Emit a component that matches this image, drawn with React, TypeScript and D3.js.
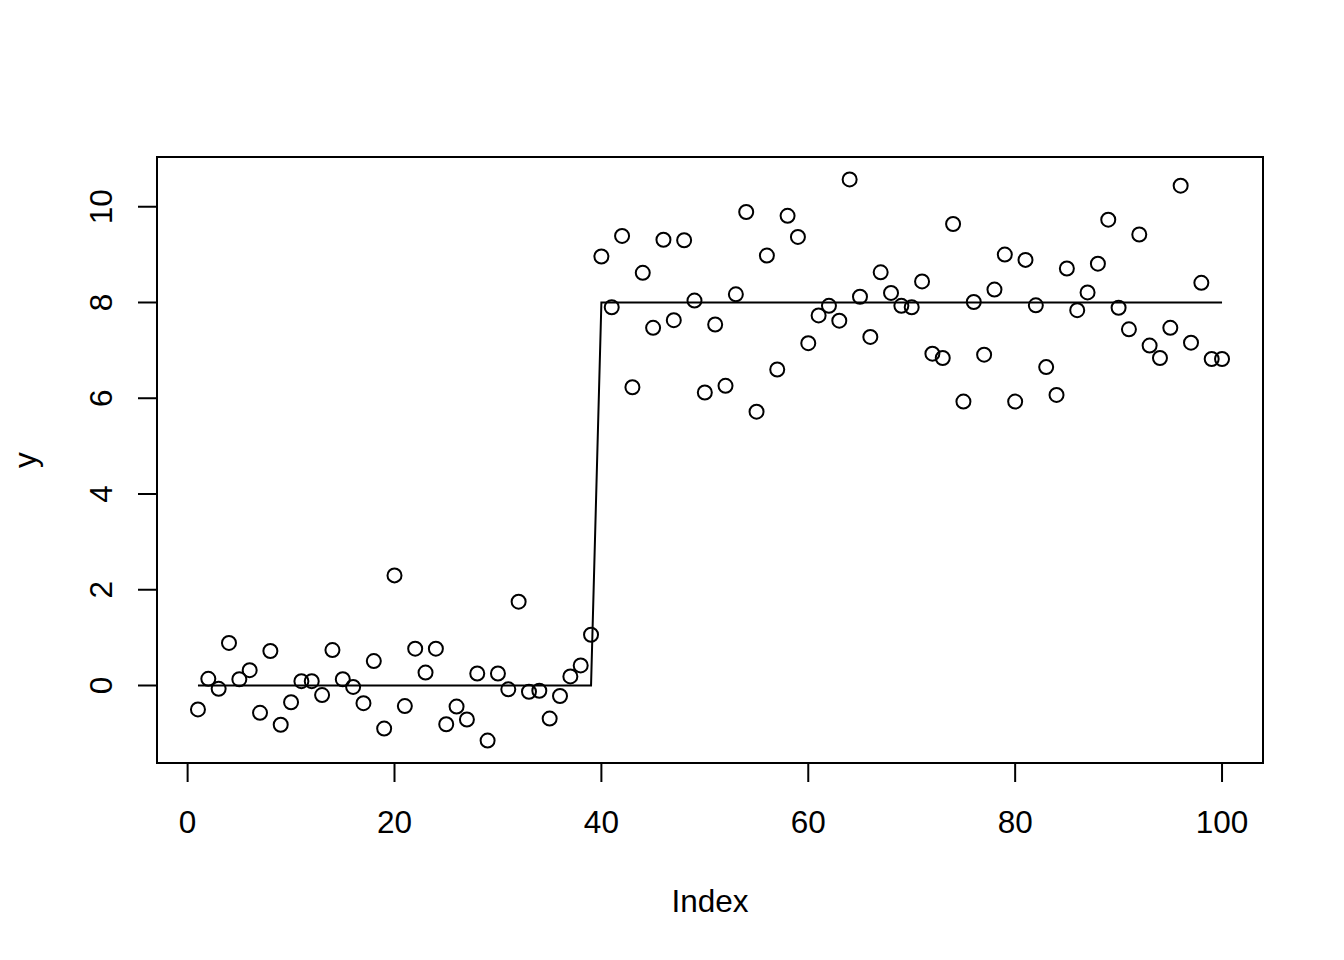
import React from "react";
import * as d3 from "d3";

// Observed values y[1..100]
const yValues: number[] = [
  -0.50, 0.14, -0.07, 0.89, 0.13, 0.32, -0.57, 0.72, -0.82, -0.35,
  0.09, 0.09, -0.20, 0.74, 0.13, -0.03, -0.37, 0.51, -0.90, 2.30,
  -0.43, 0.77, 0.27, 0.77, -0.81, -0.44, -0.71, 0.25, -1.15, 0.25,
  -0.08, 1.75, -0.13, -0.11, -0.69, -0.22, 0.19, 0.42, 1.06, 8.96,
  7.90, 9.39, 6.23, 8.62, 7.47, 9.31, 7.63, 9.30, 8.04, 6.12,
  7.54, 6.26, 8.17, 9.89, 5.72, 8.98, 6.60, 9.81, 9.37, 7.15,
  7.73, 7.93, 7.62, 10.57, 8.12, 7.28, 8.63, 8.20, 7.93, 7.90,
  8.44, 6.93, 6.84, 9.64, 5.93, 8.01, 6.91, 8.27, 9.00, 5.93,
  8.89, 7.94, 6.65, 6.07, 8.71, 7.84, 8.21, 8.81, 9.73, 7.89,
  7.44, 9.42, 7.10, 6.84, 7.47, 10.44, 7.16, 8.41, 6.82, 6.82,
];

// Fitted step line (vertices)
const fitIndex: number[] = [1, 39, 40, 100];
const fitValue: number[] = [0, 0, 8, 8];

const xTicks: number[] = [0, 20, 40, 60, 80, 100];
const yTicks: number[] = [0, 2, 4, 6, 8, 10];

const xLabel = "Index";
const yLabel = "y";

const W = 1344;
const H = 960;
const left = 157;
const right = 1263;
const top = 157;
const bottom = 763;
const FONT = "'Liberation Sans', Arial, Helvetica, sans-serif";
const FS = 31.5;

function rExtend(lo: number, hi: number): [number, number] {
  const d = (hi - lo) * 0.04;
  return [lo - d, hi + d];
}

export default function App() {
  const points = yValues.map((v, i) => ({ idx: i + 1, v }));
  const xDom = rExtend(1, yValues.length);
  const yDom = rExtend(d3.min(yValues)!, d3.max(yValues)!);
  const x = d3.scaleLinear().domain(xDom).range([left, right]);
  const y = d3.scaleLinear().domain(yDom).range([bottom, top]);

  const line = d3
    .line<number>()
    .x((_, i) => x(fitIndex[i]))
    .y((d) => y(d));
  const fitPath = line(fitValue) || "";

  const tickLen = 19;
  const sw = 2;

  return (
    <svg
      width={W}
      height={H}
      style={{ position: "absolute", left: 0, top: 0, background: "#fff" }}
      fontFamily={FONT}
    >
      <rect x={0} y={0} width={W} height={H} fill="#fff" />
      {/* plot box */}
      <rect
        x={left}
        y={top}
        width={right - left}
        height={bottom - top}
        fill="none"
        stroke="#000"
        strokeWidth={sw}
      />
      {/* x axis */}
      <line
        x1={x(xTicks[0])}
        x2={x(xTicks[xTicks.length - 1])}
        y1={bottom}
        y2={bottom}
        stroke="#000"
        strokeWidth={sw}
      />
      {xTicks.map((t) => (
        <g key={"xt" + t}>
          <line
            x1={x(t)}
            x2={x(t)}
            y1={bottom}
            y2={bottom + tickLen}
            stroke="#000"
            strokeWidth={sw}
          />
          <text x={x(t)} y={833} textAnchor="middle" fontSize={FS} fill="#000">
            {t}
          </text>
        </g>
      ))}
      {/* y axis */}
      <line
        x1={left}
        x2={left}
        y1={y(yTicks[0])}
        y2={y(yTicks[yTicks.length - 1])}
        stroke="#000"
        strokeWidth={sw}
      />
      {yTicks.map((t) => (
        <g key={"yt" + t}>
          <line
            x1={left}
            x2={left - tickLen}
            y1={y(t)}
            y2={y(t)}
            stroke="#000"
            strokeWidth={sw}
          />
          <text
            transform={`translate(112,${y(t)}) rotate(-90)`}
            textAnchor="middle"
            fontSize={FS}
            fill="#000"
          >
            {t}
          </text>
        </g>
      ))}
      {/* axis titles */}
      <text x={(left + right) / 2} y={912} textAnchor="middle" fontSize={FS} fill="#000">
        {xLabel}
      </text>
      <text
        transform={`translate(36,${(top + bottom) / 2}) rotate(-90)`}
        textAnchor="middle"
        fontSize={FS}
        fill="#000"
      >
        {yLabel}
      </text>
      {/* fitted line */}
      <path d={fitPath} fill="none" stroke="#000" strokeWidth={sw} />
      {/* points */}
      {points.map((p) => (
        <circle
          key={p.idx}
          cx={x(p.idx)}
          cy={y(p.v)}
          r={7}
          fill="none"
          stroke="#000"
          strokeWidth={2}
        />
      ))}
    </svg>
  );
}
